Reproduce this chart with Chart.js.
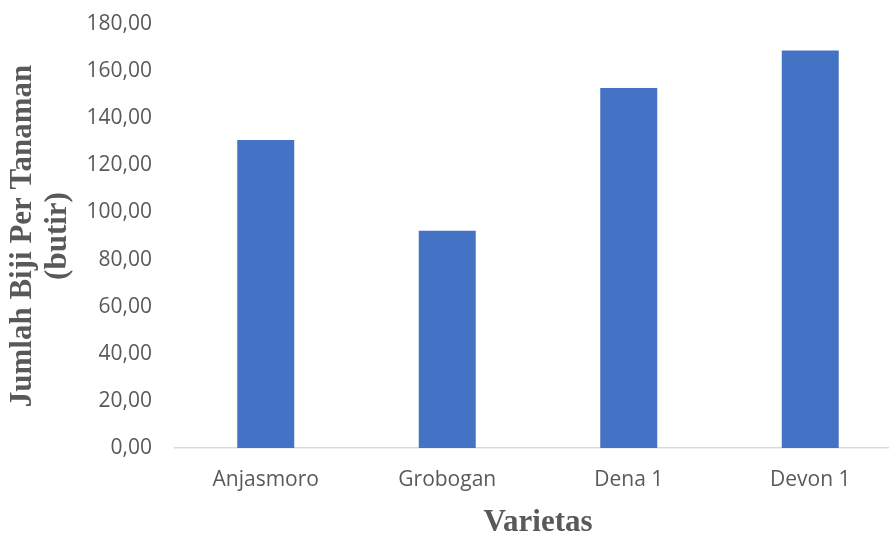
<!DOCTYPE html>
<html>
<head>
<meta charset="utf-8">
<script src="https://cdn.jsdelivr.net/npm/chart.js@4/dist/chart.umd.min.js"></script>
<style>
  html, body { margin: 0; padding: 0; background: #ffffff; overflow: hidden; }
  #wrap { position: relative; width: 901px; height: 533px; }
</style>
</head>
<body>
<div id="wrap"><canvas id="chart"></canvas></div>
<script>
// Seeds per plant (butir) for each soybean variety
const varieties = ['Anjasmoro', 'Grobogan', 'Dena 1', 'Devon 1'];
const seedsPerPlant = [130.8, 92.2, 152.8, 168.8];

// Value axis range and step
const yMin = 0;
const yMax = 180;
const yStep = 20;

const yTitleLines = ['Jumlah Biji Per Tanaman', '(butir)'];
const xTitle = 'Varietas';

const grey = '#595959';

function formatComma(v) {
  return Number(v).toFixed(2).replace('.', ',');
}

new Chart(document.getElementById('chart'), {
  type: 'bar',
  data: {
    labels: varieties,
    datasets: [{
      data: seedsPerPlant,
      backgroundColor: '#4472C4',
      borderWidth: 0,
      categoryPercentage: 1,
      barPercentage: 0.314
    }]
  },
  options: {
    responsive: true,
    maintainAspectRatio: false,
    animation: false,
    layout: { padding: { top: 24, right: 0, bottom: 0, left: 0 } },
    plugins: {
      legend: { display: false },
      tooltip: { enabled: false }
    },
    scales: {
      x: {
        offset: true,
        grid: { display: false, drawTicks: false },
        border: { display: true, color: '#d9d9d9', width: 1.5 },
        ticks: {
          color: grey,
          padding: 19,
          font: { family: 'Open Sans', size: 21 }
        },
        title: {
          display: true,
          text: xTitle,
          color: grey,
          padding: { top: 0, bottom: 0 },
          font: { family: 'Liberation Serif', size: 31, weight: 'bold', lineHeight: 0.65 }
        },
        afterFit(scale) { scale.height = 85; }
      },
      y: {
        min: yMin,
        max: yMax,
        grid: { display: false, drawTicks: false },
        border: { display: false },
        ticks: {
          stepSize: yStep,
          color: grey,
          padding: 23,
          font: { family: 'Open Sans', size: 21 },
          callback: (v) => formatComma(v)
        },
        title: {
          display: true,
          text: yTitleLines,
          color: grey,
          padding: { top: 5, bottom: 0 },
          font: { family: 'Liberation Serif', size: 31, weight: 'bold', lineHeight: 1.13 }
        },
        afterFit(scale) {
          scale.width = 175;
          // keep the plot top tied to the layout padding, not the tick gap
          scale.paddingTop = 10;
          scale.paddingBottom = 10;
        }
      }
    }
  }
});
</script>
</body>
</html>
